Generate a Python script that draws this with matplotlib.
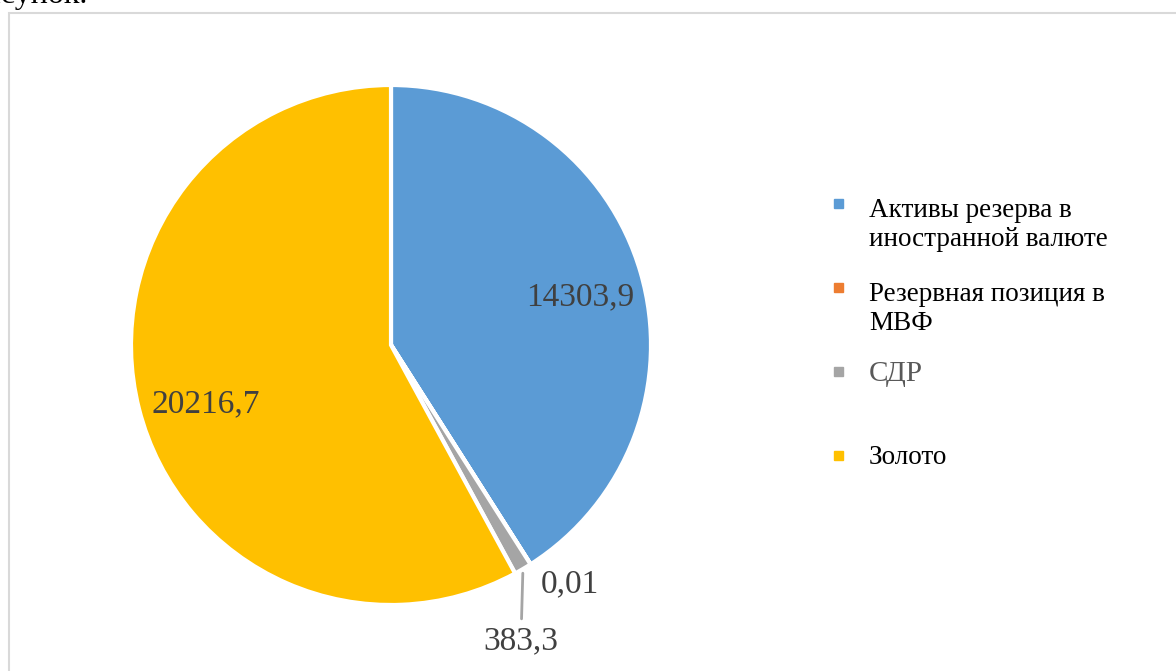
import matplotlib.pyplot as plt
import numpy as np
from matplotlib.patches import Rectangle

plt.rcParams['font.family'] = ['Liberation Serif', 'DejaVu Serif']

# Data
categories = ['Активы резерва в\nиностранной валюте', 'Резервная позиция в\nМВФ', 'СДР', 'Золото']
values = [14303.9, 0.01, 383.3, 20216.7]
value_labels = ['14303,9', '0,01', '383,3', '20216,7']
colors = ['#5B9BD5', '#ED7D31', '#A5A5A5', '#FFC000']

W, H = 1176, 671
fig = plt.figure(figsize=(W / 100, H / 100), dpi=100)

# pie centre / radius in pixels
cx, cy, r = 391, 345, 260
ax = fig.add_axes([(cx - r) / W, (H - cy - r) / H, 2 * r / W, 2 * r / H])
wedges, _ = ax.pie(values, colors=colors, startangle=90, counterclock=False,
                   radius=1.0, wedgeprops=dict(edgecolor='white', linewidth=3))
ax.set_xlim(-1, 1)
ax.set_ylim(-1, 1)
ax.set_aspect('equal')
ax.axis('off')

lab_col = '#404040'
# big labels inside the wedges (small angle nudges, like Excel's placement)
for i, shift in [(0, -2.0), (3, 3.5)]:
    w = wedges[i]
    ang = np.deg2rad((w.theta1 + w.theta2) / 2 + shift)
    ax.text(0.75 * np.cos(ang), 0.75 * np.sin(ang), value_labels[i],
            ha='center', va='center', fontsize=24, color=lab_col)

# small wedges: labels outside
w = wedges[1]
ang = np.deg2rad(w.theta1)
ax.annotate(value_labels[1], xy=(np.cos(ang), np.sin(ang)),
            xytext=(10, -20), textcoords='offset pixels',
            ha='left', va='center', fontsize=24, color=lab_col)

w = wedges[2]
ang = np.deg2rad((w.theta1 + w.theta2) / 2)
ax.annotate(value_labels[2], xy=(np.cos(ang), np.sin(ang)),
            xytext=(-2, -72), textcoords='offset pixels',
            ha='center', va='center', fontsize=24, color=lab_col,
            arrowprops=dict(arrowstyle='-', color='#A5A5A5', lw=2,
                            shrinkA=3, shrinkB=3))

# legend drawn by hand (Excel style spacing)
for i, (lab, col) in enumerate(zip(categories, colors)):
    y = 203 + 84 * i
    fig.patches.append(Rectangle(((838 - 4.5) / W, (H - y - 4.5) / H), 9 / W, 9 / H,
                                 transform=fig.transFigure, color=col))
    if lab == 'СДР':
        tcol, fs = '#595959', 21
    else:
        tcol, fs = 'black', 19.5
    two = '\n' in lab
    fig.text(869 / W, (H - y + 5) / H if two else (H - y - 3) / H, lab,
             ha='left', va='top' if two else 'center',
             fontsize=fs, color=tcol, linespacing=1.22)

# chart frame
fig.patches.append(Rectangle((9 / W, -0.1), 2, (H - 13) / H + 0.1,
                             transform=fig.transFigure, fill=False,
                             edgecolor='#D9D9D9', lw=1.5))

# cropped caption above the frame (cut off in the source as well)
fig.text(87 / W, (H - 3) / H, 'Рисунок.', ha='right', va='baseline',
         fontsize=23, color='black')

fig.savefig('out.png', dpi=100, facecolor='white')
